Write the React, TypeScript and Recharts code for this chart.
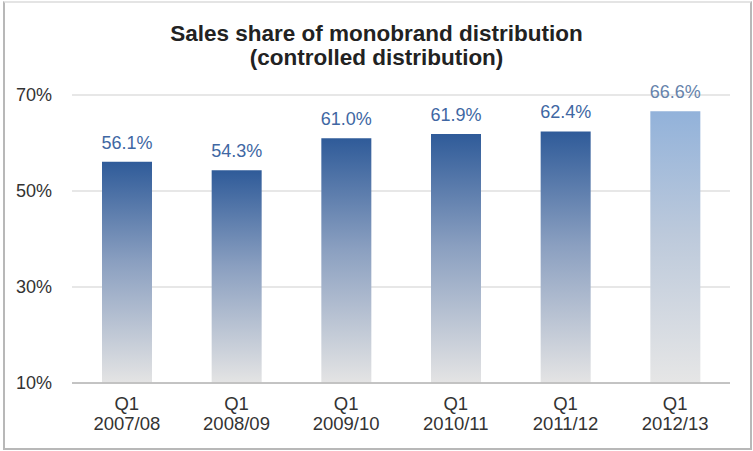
import { BarChart, Bar, XAxis, YAxis, CartesianGrid, LabelList, Cell } from "recharts";

const periods = ["2007/08", "2008/09", "2009/10", "2010/11", "2011/12", "2012/13"];
const shares = [56.1, 54.3, 61.0, 61.9, 62.4, 66.6];
const yTicks = [10, 30, 50, 70];
const boundaries = [0, 1, 2, 3, 4, 5, 6];

const data = periods.map((p, i) => ({ period: p, share: shares[i] }));

const FONT = "Liberation Sans, Arial, sans-serif";

const PeriodTick = (props: any) => {
    const { x, y, payload } = props;
    return (
        <text x={x} y={y} textAnchor="middle" fill="#333" fontSize={18.5} fontFamily={FONT}>
            <tspan x={x} dy={19}>Q1</tspan>
            <tspan x={x} dy={20}>{payload.value}</tspan>
        </text>
    );
};

export default function App() {
    return (
        <div style={{ position: "absolute", left: 0, top: 0, width: 753, height: 451, background: "#fff" }}>
            <div
                style={{
                    position: "absolute",
                    left: 3,
                    top: 1,
                    width: 745,
                    height: 445,
                    border: "2px solid #b8b8b8",
                    borderTopColor: "#e4e4e4",
                }}
            />
            <div
                style={{
                    position: "absolute",
                    left: 0,
                    top: 22,
                    width: 753,
                    textAlign: "center",
                    fontFamily: FONT,
                    fontWeight: "bold",
                    fontSize: 22.5,
                    lineHeight: "24px",
                    color: "#222",
                }}
            >
                Sales share of monobrand distribution
                <br />
                (controlled distribution)
            </div>
            <div style={{ position: "absolute", left: 0, top: 0 }}>
                <BarChart width={753} height={451} data={data} margin={{ top: 95, right: 23, bottom: 18, left: 0 }}>
                    <defs>
                        <linearGradient id="gDark" x1="0" y1="0" x2="0" y2="1">
                            <stop offset="0%" stopColor="#2f5b99" />
                            <stop offset="45%" stopColor="#8a9fc0" />
                            <stop offset="100%" stopColor="#e4e4e4" />
                        </linearGradient>
                        <linearGradient id="gLight" x1="0" y1="0" x2="0" y2="1">
                            <stop offset="0%" stopColor="#92b2da" />
                            <stop offset="45%" stopColor="#bcc9db" />
                            <stop offset="100%" stopColor="#e6e6e6" />
                        </linearGradient>
                    </defs>
                    <CartesianGrid vertical={false} stroke="#cfcfcf" />
                    <XAxis
                        dataKey="period"
                        height={50}
                        tick={<PeriodTick />}
                        tickLine={false}
                        axisLine={{ stroke: "#a0a0a0" }}
                    />
                    <XAxis
                        xAxisId="bounds"
                        type="number"
                        domain={[0, 6]}
                        ticks={boundaries}
                        height={0}
                        axisLine={false}
                        tickFormatter={() => ""}
                        tickLine={{ stroke: "#a0a0a0" }}
                        tickSize={5}
                    />
                    <YAxis
                        width={72}
                        domain={[10, 70]}
                        ticks={yTicks}
                        tickFormatter={(v: number) => `${v}%`}
                        axisLine={false}
                        tickLine={false}
                        tickMargin={14}
                        tick={{ fill: "#333", fontSize: 18, fontFamily: FONT }}
                    />
                    <Bar dataKey="share" barSize={50} isAnimationActive={false}>
                        {data.map((d, i) => (
                            <Cell key={d.period} fill={i === data.length - 1 ? "url(#gLight)" : "url(#gDark)"} />
                        ))}
                        <LabelList
                            dataKey="share"
                            position="top"
                            content={(p: any) => {
                                const { x, y, width, value, index } = p;
                                return (
                                    <text
                                        x={x + width / 2}
                                        y={y - 13}
                                        textAnchor="middle"
                                        fill={index === data.length - 1 ? "#6683ab" : "#4067a3"}
                                        fontSize={18}
                                        fontFamily={FONT}
                                    >
                                        {`${Number(value).toFixed(1)}%`}
                                    </text>
                                );
                            }}
                        />
                    </Bar>
                </BarChart>
            </div>
        </div>
    );
}
